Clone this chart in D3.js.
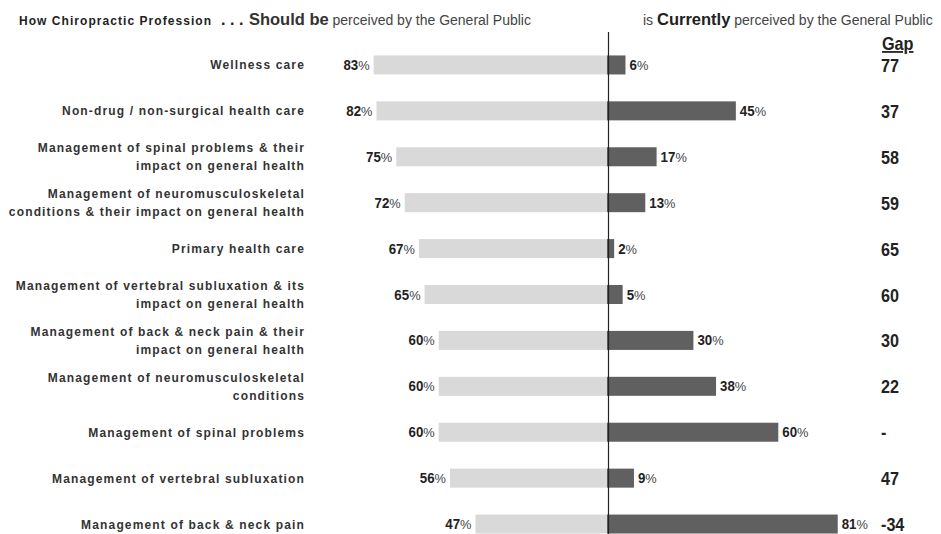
<!DOCTYPE html>
<html>
<head>
<meta charset="utf-8">
<script src="https://cdn.jsdelivr.net/npm/d3@7"></script>
<style>
  html, body { margin: 0; padding: 0; background: #fff; }
  svg { display: block; font-family: "Liberation Sans", Arial, sans-serif; }
</style>
</head>
<body>
<div id="chart-container"></div>
<script>
const categories = [
  ['Wellness care'],
  ['Non-drug / non-surgical health care'],
  ['Management of spinal problems & their', 'impact on general health'],
  ['Management of neuromusculoskeletal', 'conditions & their impact on general health'],
  ['Primary health care'],
  ['Management of vertebral subluxation & its', 'impact on general health'],
  ['Management of back & neck pain & their', 'impact on general health'],
  ['Management of neuromusculoskeletal', 'conditions'],
  ['Management of spinal problems'],
  ['Management of vertebral subluxation'],
  ['Management of back & neck pain']
];
const shouldBe = [83, 82, 75, 72, 67, 65, 60, 60, 60, 56, 47];
const currently = [6, 45, 17, 13, 2, 5, 30, 38, 60, 9, 81];
const gaps = ['77', '37', '58', '59', '65', '60', '30', '22', '-', '47', '-34'];

displayChart();

function displayChart() {
  const width = 941;
  const height = 534;
  const centerX = 608.5;
  const svg = d3.select('#chart-container').append('svg')
      .attr('width', width)
      .attr('height', height);

  const keys = categories.map((c, i) => i);
  const yScale = d3.scaleBand(keys, [42, 547])
      .paddingInner(0.586)
      .paddingOuter(0.293);
  const xScale = d3.scaleLinear([0, 100], [0, 283]);
  const midY = i => yScale(i) + yScale.bandwidth() / 2;

  drawTitle(svg);

  // left bars (should be)
  svg.append('g').selectAll('rect')
    .data(shouldBe)
    .join('rect')
      .attr('x', d => centerX - xScale(d))
      .attr('y', (d, i) => yScale(i))
      .attr('width', d => xScale(d))
      .attr('height', yScale.bandwidth())
      .attr('fill', '#d9d9d9');

  // right bars (currently)
  svg.append('g').selectAll('rect')
    .data(currently)
    .join('rect')
      .attr('x', centerX - 1.5)
      .attr('y', (d, i) => yScale(i))
      .attr('width', d => xScale(d) + 1.5)
      .attr('height', yScale.bandwidth())
      .attr('fill', '#606060');

  // centre line
  svg.append('line')
      .attr('x1', centerX).attr('x2', centerX)
      .attr('y1', 32).attr('y2', height)
      .attr('stroke', '#222')
      .attr('stroke-width', 1.2);

  // value labels
  const valueLabel = (sel) => {
    sel.append('tspan').attr('font-weight', 'bold').attr('font-size', 14).text(d => d);
    sel.append('tspan').attr('font-weight', 'normal').attr('font-size', 13.5).attr('fill', '#444').text('%');
  };
  svg.append('g').selectAll('text')
    .data(shouldBe)
    .join('text')
      .attr('transform', (d, i) => `translate(${centerX - xScale(d) - 4}, ${midY(i) + 5}) scale(0.95, 1)`)
      .attr('text-anchor', 'end')
      .attr('fill', '#222')
      .call(valueLabel);

  svg.append('g').selectAll('text')
    .data(currently)
    .join('text')
      .attr('transform', (d, i) => `translate(${centerX + xScale(d) + 4}, ${midY(i) + 5}) scale(0.95, 1)`)
      .attr('fill', '#222')
      .call(valueLabel);

  // category labels
  const labels = svg.append('g').selectAll('text')
    .data(categories)
    .join('text')
      .attr('text-anchor', 'end')
      .attr('font-size', 12)
      .attr('font-weight', 'bold')
      .attr('letter-spacing', 1.15)
      .attr('fill', '#333')
      .attr('y', (d, i) => midY(i) + 4.5 - (d.length - 1) * 9);
  labels.selectAll('tspan')
    .data(d => d)
    .join('tspan')
      .attr('x', 305)
      .attr('dy', (d, i) => i === 0 ? 0 : 18)
      .text(d => d);

  // gap column
  svg.append('text')
      .attr('transform', 'translate(882, 50) scale(0.9, 1)')
      .attr('font-size', 18)
      .attr('font-weight', 'bold')
      .attr('fill', '#222')
      .attr('text-decoration', 'underline')
      .text('Gap');

  svg.append('g').selectAll('text')
    .data(gaps)
    .join('text')
      .attr('transform', (d, i) => `translate(881, ${midY(i) + 7}) scale(0.85, 1)`)
      .attr('font-size', 19)
      .attr('font-weight', 'bold')
      .attr('fill', '#222')
      .text(d => d);
}

function drawTitle(svg) {
  const left = svg.append('text')
      .attr('x', 19)
      .attr('y', 25)
      .attr('fill', '#222');
  left.append('tspan').attr('font-size', 12).attr('font-weight', 'bold')
      .attr('letter-spacing', 1.05).text('How Chiropractic Profession');
  left.append('tspan').attr('font-size', 16).attr('font-weight', 'bold')
      .attr('letter-spacing', 4.5).attr('dx', 9).text('...');
  left.append('tspan').attr('font-size', 16.5).attr('font-weight', 'bold').attr('fill', '#333')
      .attr('dx', 1).text('Should be');
  left.append('tspan').attr('font-size', 14).attr('fill', '#444')
      .text(' perceived by the General Public');

  const right = svg.append('text')
      .attr('x', 643)
      .attr('y', 25)
      .attr('fill', '#444');
  right.append('tspan').attr('font-size', 14).text('is ');
  right.append('tspan').attr('font-size', 16.5).attr('font-weight', 'bold').attr('fill', '#222')
      .text('Currently');
  right.append('tspan').attr('font-size', 14)
      .text(' perceived by the General Public');
}
</script>
</body>
</html>
